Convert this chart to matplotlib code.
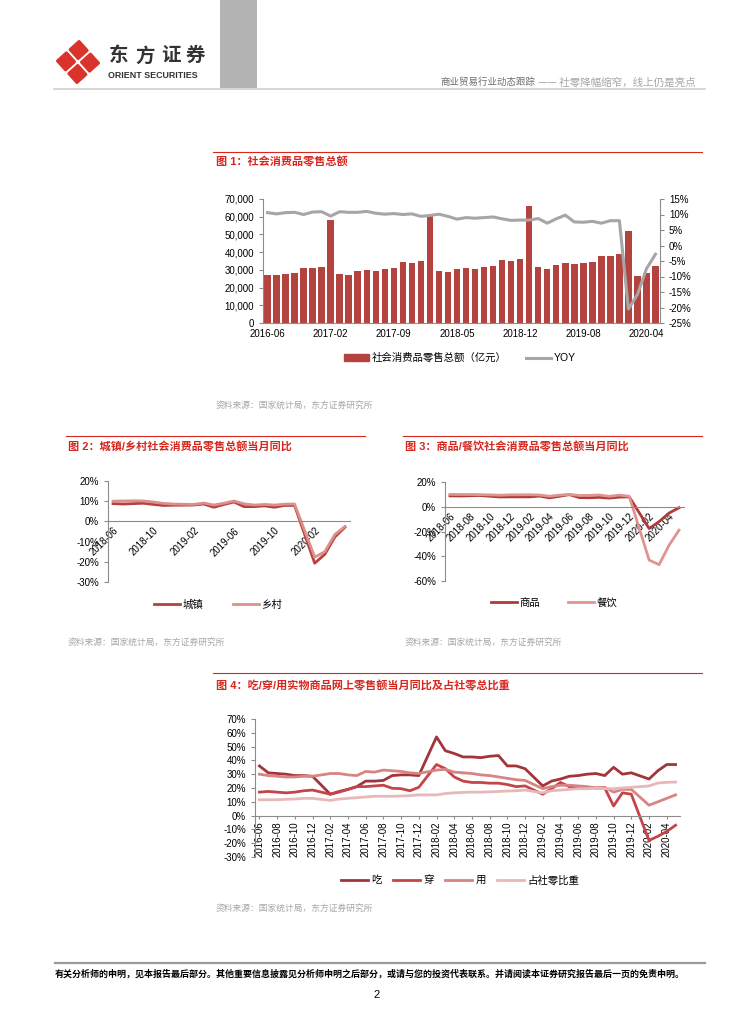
import numpy as np
import pandas as pd
import matplotlib
matplotlib.use('Agg')
import matplotlib.pyplot as plt
from matplotlib.patches import Polygon, Rectangle, Patch
from matplotlib.lines import Line2D
from matplotlib.ticker import FuncFormatter, MultipleLocator

plt.rcParams['font.family'] = ['Liberation Sans', 'Noto Sans CJK SC']
plt.rcParams['axes.unicode_minus'] = False

nan = np.nan

# ---- 图1 社会消费品零售总额 (亿元) 及 YOY, 2016-06 ~ 2020-05, 1月并入2月
months1 = [p.strftime('%Y-%m') for p in pd.period_range('2016-06', '2020-05', freq='M') if p.month != 1]
retail_total = [26857, 26827, 27540, 28333, 31119, 30959, 31757,
                58068, 27864, 27278, 29459, 29808, 29610, 30330, 31252, 34240, 34108, 34734,
                61082, 29194, 28542, 30359, 30842, 30734, 31542, 32005, 35534, 35260, 35893,
                66064, 31726, 30586, 32956, 33878, 33073, 33896, 34495, 38104, 38094, 38777,
                52130, 26450, 28178, 31973]
retail_yoy = [10.6, 10.2, 10.6, 10.7, 10.0, 10.8, 10.9,
              9.5, 10.9, 10.7, 10.7, 11.0, 10.4, 10.1, 10.3, 10.0, 10.2, 9.4,
              9.7, 10.1, 9.4, 8.5, 9.0, 8.8, 9.0, 9.2, 8.6, 8.1, 8.2,
              8.2, 8.7, 7.2, 8.6, 9.8, 7.6, 7.5, 7.8, 7.2, 8.0, 8.0,
              -20.5, -15.8, -7.5, -2.8]

# ---- 图2/图3 当月同比, 2018-06 ~ 2020-05 (1月无数据)
months2 = [p.strftime('%Y-%m') for p in pd.period_range('2018-06', '2020-05', freq='M')]
urban = [8.8, 8.6, 8.8, 9.0, 8.4, 7.9, 8.0, nan, 8.1, 8.6, 7.0, 8.4, 9.6, 7.3, 7.3, 7.7, 7.0, 7.9, 7.9, nan,
         -20.7, -16.3, -7.7, -2.9]
rural = [10.0, 10.1, 10.2, 10.1, 9.6, 8.9, 8.6, nan, 8.4, 9.1, 8.1, 9.0, 10.1, 8.7, 8.1, 8.4, 8.1, 8.5, 8.6, nan,
         -17.7, -15.0, -6.5, -2.5]
goods = [8.8, 8.7, 8.9, 9.1, 8.5, 7.9, 8.0, nan, 8.0, 8.6, 7.2, 8.5, 9.8, 7.4, 7.3, 7.6, 7.0, 7.8, 8.0, nan,
         -17.6, -12.0, -5.1, -0.8]
catering = [10.0, 9.9, 9.9, 9.8, 9.6, 9.3, 9.6, nan, 9.7, 9.5, 8.5, 9.4, 10.0, 9.1, 9.2, 9.5, 8.4, 9.4, 8.5, nan,
            -43.1, -46.8, -31.1, -18.9]

# ---- 图4 网上零售 吃/穿/用 当月同比及占社零比重, 2016-06 ~ 2020-05
months4 = [p.strftime('%Y-%m') for p in pd.period_range('2016-06', '2020-05', freq='M')]
eat = [36, 31, 30.5, 30, 29, 29, 28.5, nan,
       15.5, 17.5, 19, 21, 25, 25, 25.5, 29, 29.5, 29.5, 29, nan,
       57, 47, 45, 42.5, 42.5, 42, 43, 43.5, 36, 36, 34, nan,
       21.5, 25, 26.5, 28.5, 29, 30, 30.5, 29, 35, 30, 31, nan,
       26.5, 32.5, 37, 37]
wear = [17, 17.5, 17, 16.5, 17, 18, 18.5, nan,
        15.5, 17, 19, 21, 21, 21.5, 22, 19.8, 19.5, 18, 20.5, nan,
        37, 34, 28, 25, 24, 24, 23.5, 23.5, 22.5, 21, 21.5, nan,
        15.5, 19.5, 24, 21, 21, 20.5, 20, 20, 7, 16.5, 15.5, nan,
        -18, -15, -11.5, -7]
use = [30, 29, 28.5, 28, 28, 28.5, 28.5, nan,
       30.5, 30.5, 29.5, 29, 32, 31.5, 33, 32.5, 32, 31, 30.5, nan,
       33, 33.5, 31.5, 31, 30.5, 29.5, 29, 28, 27, 26, 25.5, nan,
       19.5, 21, 22, 22, 21.5, 21, 20, 20.5, 17, 19, 19, nan,
       7.5, 10, 12.5, 15]
share = [11.5, 11.5, 11.5, 11.8, 12, 12.5, 12.5, nan,
         11, 12, 12.5, 13, 13.5, 14, 14, 14, 14.2, 14.5, 15, nan,
         15, 16, 16.5, 16.8, 17, 17, 17.2, 17.5, 17.8, 18, 18.5, nan,
         16.5, 18, 18.5, 19, 19.5, 19.5, 19.8, 19.5, 19.5, 20, 20.5, nan,
         21.5, 23.6, 24.1, 24.3]

W, H = 754, 1024
RED = '#D7261E'
SPINE = '#8C8C8C'
SRC = '#A6A6A6'
LEG_FS = 7.5

fig = plt.figure(figsize=(W / 100, H / 100), dpi=100)
bg = fig.add_axes([0, 0, 1, 1])
bg.set_xlim(0, W)
bg.set_ylim(H, 0)
bg.axis('off')


def px_axes(x0, y0, x1, y1):
    return fig.add_axes([x0 / W, 1 - y1 / H, (x1 - x0) / W, (y1 - y0) / H])


def style(ax):
    for s in ['top', 'right']:
        ax.spines[s].set_visible(False)
    for s in ['left', 'bottom']:
        ax.spines[s].set_color(SPINE)
        ax.spines[s].set_linewidth(0.8)
    ax.tick_params(labelsize=7, color=SPINE, labelcolor='black', length=3, width=0.8)
    ax.set_facecolor('none')


def plot_gappy(ax, y, **kw):
    y = np.asarray(y, dtype=float)
    x = np.arange(len(y))
    m = ~np.isnan(y)
    ax.plot(x[m], y[m], **kw)


pct = FuncFormatter(lambda v, p: '%d%%' % v)

# ---------------- header ----------------
# 红色菱形标志: 一个大菱形被白色 X 分成四块
cx, cy = 78, 62
th = np.deg2rad(3)
for k in range(4):
    phi = th + k * np.pi / 2
    ox, oy = cx + 12 * np.cos(phi), cy + 12 * np.sin(phi)
    pts = [(ox + 8.5 * np.cos(th + j * np.pi / 2), oy + 8.5 * np.sin(th + j * np.pi / 2)) for j in range(4)]
    bg.add_patch(Polygon(pts, closed=True, facecolor='#D9332B', edgecolor='#D9332B',
                         lw=2.2, joinstyle='round'))
for ch, x in zip('东方证券', [119, 145, 171, 195]):
    bg.text(x, 56, ch, fontsize=14, fontweight='bold', color='#333333', ha='center', va='center')
bg.text(108, 76, 'ORIENT SECURITIES', fontsize=6.4, fontweight='bold', color='#333333', va='center')
bg.add_patch(Rectangle((220, 0), 37, 88, facecolor='#B3B3B3', edgecolor='none'))
bg.plot([54, 705], [89, 89], color='#D0D0D0', lw=1.2)
bg.text(440, 82, '商业贸易行业动态跟踪', fontsize=6.8, color='#6E6E6E', va='center')
bg.text(538, 82, '—— 社零降幅缩窄，线上仍是亮点', fontsize=7.6, color='#A6A6A6', va='center',
        family=['Noto Sans CJK SC'])

# ---------------- titles / sources ----------------
blocks = [
    (213, 702, 152, 216, 162, '图 1：社会消费品零售总额', 405),
    (66, 365, 436, 68, 447, '图 2：城镇/乡村社会消费品零售总额当月同比', 642),
    (403, 702, 436, 405, 447, '图 3：商品/餐饮社会消费品零售总额当月同比', 642),
    (213, 702, 673, 216, 686, '图 4：吃/穿/用实物商品网上零售额当月同比及占社零总比重', 908),
]
for x0, x1, ly, tx, ty, title, sy in blocks:
    bg.plot([x0, x1], [ly, ly], color=RED, lw=0.8)
    bg.text(tx, ty, title, fontsize=8, fontweight='bold', color=RED, va='center')
    bg.text(tx, sy, '资料来源：国家统计局，东方证券研究所', fontsize=6.3, color=SRC, va='center')

# ---------------- chart 1 ----------------
ax1 = px_axes(263, 199, 660, 323)
style(ax1)
x1 = np.arange(len(months1))
ax1.bar(x1, retail_total, width=0.72, color='#B4423F', zorder=2)
ax1.set_xlim(-0.5, len(months1) - 0.5)
ax1.set_ylim(0, 70000)
ax1.yaxis.set_major_locator(MultipleLocator(10000))
ax1.yaxis.set_major_formatter(FuncFormatter(lambda v, p: '{:,}'.format(int(v))))
ax1.set_xticks(x1[::7])
ax1.set_xticklabels([months1[i] for i in x1[::7]])
ax1.tick_params(axis='x', length=0, pad=4)
ax2 = ax1.twinx()
for s in ['top', 'left', 'bottom']:
    ax2.spines[s].set_visible(False)
ax2.spines['right'].set_color(SPINE)
ax2.spines['right'].set_linewidth(0.8)
ax2.plot(x1, retail_yoy, color='#A6A6A6', lw=2.2)
ax2.set_ylim(-25, 15)
ax2.yaxis.set_major_locator(MultipleLocator(5))
ax2.yaxis.set_major_formatter(pct)
ax2.tick_params(labelsize=7, color=SPINE, length=3, width=0.8)
bg.legend([Patch(color='#B4423F'), Line2D([], [], color='#A6A6A6', lw=2.2)],
          ['社会消费品零售总额（亿元）', 'YOY'], loc='center', bbox_to_anchor=(460, 358),
          bbox_transform=bg.transData, ncol=2, frameon=False, fontsize=LEG_FS,
          handlelength=2.4, handleheight=0.7, handletextpad=0.3, columnspacing=1.8)

# ---------------- chart 2 ----------------
axc2 = px_axes(108, 481, 350, 582)
style(axc2)
plot_gappy(axc2, urban, color='#B4423F', lw=2.0, label='城镇')
plot_gappy(axc2, rural, color='#DC8F8B', lw=2.0, label='乡村')
axc2.set_xlim(-0.5, len(months2) - 0.5)
axc2.set_ylim(-30, 20)
axc2.yaxis.set_major_locator(MultipleLocator(10))
axc2.yaxis.set_major_formatter(pct)
axc2.spines['bottom'].set_position(('data', 0))
xt = np.arange(0, len(months2), 4)
axc2.set_xticks(xt)
axc2.set_xticklabels([months2[i] for i in xt], rotation=45, ha='right', rotation_mode='anchor')
axc2.tick_params(axis='x', length=0, pad=3)
axc2.legend(loc='center', bbox_to_anchor=(218, 605), bbox_transform=bg.transData, ncol=2,
            frameon=False, fontsize=LEG_FS, handlelength=2.5, handletextpad=0.3, columnspacing=2.8)

# ---------------- chart 3 ----------------
axc3 = px_axes(445, 482, 684, 581)
style(axc3)
plot_gappy(axc3, goods, color='#B03A3A', lw=2.0, label='商品')
plot_gappy(axc3, catering, color='#E0948F', lw=2.0, label='餐饮')
axc3.set_xlim(-0.5, len(months2) - 0.5)
axc3.set_ylim(-60, 20)
axc3.yaxis.set_major_locator(MultipleLocator(20))
axc3.yaxis.set_major_formatter(pct)
axc3.spines['bottom'].set_position(('data', 0))
xt = np.arange(0, len(months2), 2)
axc3.set_xticks(xt)
axc3.set_xticklabels([months2[i] for i in xt], rotation=45, ha='right', rotation_mode='anchor')
axc3.tick_params(axis='x', length=0, pad=3)
axc3.legend(loc='center', bbox_to_anchor=(554, 603), bbox_transform=bg.transData, ncol=2,
            frameon=False, fontsize=LEG_FS, handlelength=2.5, handletextpad=0.3, columnspacing=2.6)

# ---------------- chart 4 ----------------
axc4 = px_axes(255, 719, 680, 857)
style(axc4)
plot_gappy(axc4, eat, color='#A3343A', lw=2.0, label='吃')
plot_gappy(axc4, wear, color='#C4444A', lw=2.0, label='穿')
plot_gappy(axc4, use, color='#D68584', lw=2.0, label='用')
plot_gappy(axc4, share, color='#E8B8B8', lw=2.0, label='占社零比重')
axc4.set_xlim(-0.5, len(months4) - 0.5)
axc4.set_ylim(-30, 70)
axc4.yaxis.set_major_locator(MultipleLocator(10))
axc4.yaxis.set_major_formatter(pct)
axc4.spines['bottom'].set_position(('data', 0))
xt = np.arange(0, len(months4), 2)
axc4.set_xticks(xt)
axc4.set_xticklabels([months4[i] for i in xt], rotation=90)
axc4.tick_params(axis='x', length=2, pad=2)
axc4.legend(loc='center', bbox_to_anchor=(460, 880), bbox_transform=bg.transData, ncol=4,
            frameon=False, fontsize=LEG_FS, handlelength=2.6, handletextpad=0.3, columnspacing=1.1)

# ---------------- footer ----------------
bg.plot([55, 705], [963, 963], color='#9A9A9A', lw=1.6)
bg.text(55, 974, '有关分析师的申明，见本报告最后部分。其他重要信息披露见分析师申明之后部分，或请与您的投资代表联系。'
        '并请阅读本证券研究报告最后一页的免责申明。', fontsize=6.5, fontweight='bold', color='black', va='center')
bg.text(377, 995, '2', fontsize=8, color='black', ha='center', va='center')

fig.savefig('out.png', dpi=100)
